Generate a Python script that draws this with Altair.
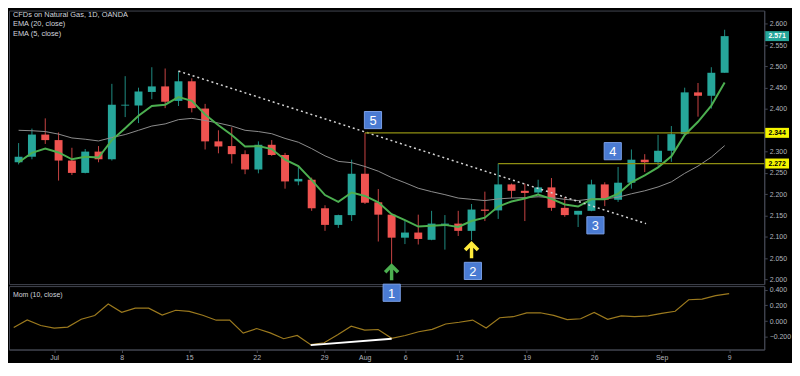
import altair as alt
import pandas as pd

# ---- data (bar 0 = 2019-06-26 ... bar 53 = 2019-09-09, daily) ----
opens = [2.275, 2.288, 2.340, 2.327, 2.279, 2.250, 2.300, 2.282, 2.408, 2.408,
         2.440, 2.453, 2.419, 2.465, 2.401, 2.324, 2.313, 2.294, 2.258, 2.316,
         2.292, 2.230, 2.234, 2.167, 2.128, 2.151, 2.248, 2.181, 2.152, 2.098,
         2.110, 2.093, 2.128, 2.131, 2.114, 2.164, 2.162, 2.223, 2.208, 2.204,
         2.216, 2.168, 2.152, 2.161, 2.223, 2.187, 2.227, 2.281, 2.275, 2.302,
         2.341, 2.439, 2.431, 2.485]
highs = [2.320, 2.354, 2.378, 2.345, 2.309, 2.306, 2.313, 2.459, 2.477, 2.450,
         2.498, 2.495, 2.489, 2.472, 2.412, 2.350, 2.357, 2.303, 2.324, 2.327,
         2.297, 2.266, 2.239, 2.174, 2.152, 2.281, 2.344, 2.212, 2.153, 2.138,
         2.152, 2.161, 2.151, 2.161, 2.177, 2.206, 2.272, 2.225, 2.225, 2.234,
         2.238, 2.193, 2.161, 2.234, 2.228, 2.264, 2.305, 2.294, 2.339, 2.360,
         2.450, 2.461, 2.498, 2.586]
lows = [2.270, 2.282, 2.318, 2.232, 2.245, 2.249, 2.275, 2.279, 2.381, 2.367,
        2.423, 2.402, 2.407, 2.392, 2.305, 2.296, 2.272, 2.247, 2.249, 2.290,
        2.213, 2.221, 2.161, 2.114, 2.121, 2.137, 2.177, 2.089, 2.036, 2.083,
        2.082, 2.092, 2.070, 2.102, 2.092, 2.137, 2.142, 2.191, 2.137, 2.198,
        2.161, 2.147, 2.123, 2.160, 2.172, 2.182, 2.213, 2.252, 2.267, 2.276,
        2.340, 2.382, 2.401, 2.485]
closes = [2.288, 2.340, 2.327, 2.279, 2.250, 2.300, 2.282, 2.410, 2.410, 2.441,
          2.453, 2.417, 2.465, 2.402, 2.324, 2.312, 2.294, 2.258, 2.316, 2.292,
          2.230, 2.236, 2.167, 2.128, 2.151, 2.248, 2.180, 2.152, 2.098, 2.110,
          2.095, 2.131, 2.131, 2.114, 2.164, 2.161, 2.223, 2.208, 2.203, 2.216,
          2.168, 2.151, 2.161, 2.223, 2.187, 2.227, 2.281, 2.275, 2.302, 2.341,
          2.439, 2.431, 2.485, 2.571]
ema5 = [2.275, 2.297, 2.307, 2.298, 2.282, 2.288, 2.286, 2.327, 2.355, 2.384,
        2.407, 2.410, 2.428, 2.419, 2.387, 2.362, 2.339, 2.312, 2.313, 2.306,
        2.281, 2.266, 2.233, 2.198, 2.182, 2.204, 2.196, 2.181, 2.153, 2.139,
        2.124, 2.126, 2.128, 2.123, 2.137, 2.145, 2.171, 2.183, 2.190, 2.199,
        2.189, 2.176, 2.171, 2.188, 2.188, 2.201, 2.228, 2.244, 2.263, 2.289,
        2.339, 2.370, 2.408, 2.462]
ema20 = [2.350, 2.349, 2.347, 2.341, 2.332, 2.329, 2.325, 2.333, 2.340, 2.350,
         2.360, 2.365, 2.375, 2.378, 2.373, 2.367, 2.360, 2.350, 2.347, 2.342,
         2.331, 2.322, 2.307, 2.290, 2.277, 2.274, 2.265, 2.254, 2.239, 2.227,
         2.214, 2.206, 2.199, 2.191, 2.188, 2.185, 2.189, 2.191, 2.192, 2.194,
         2.192, 2.188, 2.185, 2.189, 2.189, 2.193, 2.201, 2.208, 2.217, 2.229,
         2.249, 2.266, 2.287, 2.314]
mom10 = [-0.080, 0.015, -0.056, -0.088, -0.076, 0.024, 0.072, 0.216, 0.112, 0.164,
         0.165, 0.077, 0.138, 0.123, 0.074, 0.012, 0.012, -0.152, -0.094, -0.149,
         -0.223, -0.181, -0.298, -0.274, -0.173, -0.064, -0.114, -0.106, -0.218, -0.182,
         -0.135, -0.105, -0.036, -0.014, 0.013, -0.087, 0.043, 0.056, 0.105, 0.106,
         0.073, 0.020, 0.030, 0.109, 0.023, 0.066, 0.058, 0.067, 0.099, 0.125,
         0.271, 0.280, 0.324, 0.348]

tick_idx = [3, 8, 13, 18, 23, 26, 29, 33, 38, 43, 48, 53]
tick_text = ["Jul", "8", "15", "22", "29", "Aug", "6", "12", "19", "26", "Sep", "9"]
# 2.350 is hidden behind the 2.344 tag in the reference
price_ticks = [2.0, 2.05, 2.1, 2.15, 2.2, 2.25, 2.3, 2.4, 2.45, 2.5, 2.55, 2.6]
mom_ticks = [-0.2, 0.0, 0.2, 0.4]

title_lines = ["CFDs on Natural Gas, 1D, OANDA", "EMA (20, close)", "EMA (5, close)"]

trend_idx = [12, 47.1]
trend_price = [2.489, 2.131]
level_start = [26, 36]
level_price = [2.344, 2.272]
axis_box_price = [2.571, 2.344, 2.272]
axis_box_label = ["2.571", "2.344", "2.272"]
axis_box_fill = ["#26a69a", "#f5f500", "#f5f500"]
axis_box_ink = ["#ffffff", "#000000", "#000000"]
callout_text = ["5", "2", "3", "4"]
callout_idx = [26.6, 34.1, 43.3, 44.6]
callout_price = [2.374, 2.020, 2.127, 2.301]
arrow_idx = [28, 34]
arrow_price = [2.018, 2.070]
arrow_color = ["#4caf50", "#ffeb3b"]
mom_callout_text = ["1"]
mom_callout_idx = [28.0]
mom_callout_val = [0.36]
div_idx = [22, 28]
div_val = [-0.304, -0.224]

# ---- layout / style ----
W, H1, H2 = 762, 276, 64
XMIN, XMAX = -0.35, 55.6
PMIN, PMAX = 1.989, 2.631
MMIN, MMAX = -0.36, 0.444
TEAL, RED = "#26a69a", "#ef5350"
TEAL_W, RED_W = "#1f8c82", "#c84444"
LABEL = "#b2b5be"
LINE = "#434651"
FONT = "Liberation Sans"
BOX_BLUE = "#4a7bd3"
LEVEL = "#8f8f12"
ARROW = ("M0,-1 L0.9,-0.1 L0.6,0.2 L0.2,-0.22 L0.2,1 L-0.2,1 L-0.2,-0.22 "
         "L-0.6,0.2 L-0.9,-0.1 Z")
TAG = "M-1,-0.42 L1,-0.42 L1,0.42 L-1,0.42 Z"

df = pd.DataFrame({
    "idx": list(range(len(closes))), "open": opens, "high": highs, "low": lows,
    "close": closes, "ema5": ema5, "ema20": ema20, "mom": mom10,
})

xs = alt.Scale(domain=[XMIN, XMAX], nice=False, zero=False)
ys = alt.Scale(domain=[PMIN, PMAX], nice=False, zero=False)
ms = alt.Scale(domain=[MMIN, MMAX], nice=False, zero=False)

yax = alt.Axis(orient="right", values=price_ticks, format=".3f", title=None, grid=False,
               labelFontSize=7, labelColor=LABEL, tickSize=3, tickColor=LINE,
               domainColor=LINE, labelPadding=2, labelFont=FONT)
max_ = alt.Axis(orient="right", values=mom_ticks, format=".3f", title=None, grid=False,
                labelFontSize=7, labelColor=LABEL, tickSize=3, tickColor=LINE,
                domainColor=LINE, labelPadding=2, labelFont=FONT)
label_expr = " : ".join(f"datum.value == {i} ? '{t}'" for i, t in zip(tick_idx, tick_text)) + " : ''"
xax = alt.Axis(values=tick_idx, labelExpr=label_expr, title=None, grid=False,
               labelFontSize=7, labelColor=LABEL, tickSize=3, tickColor=LINE,
               domainColor=LINE, labelPadding=1, labelFont=FONT)

X = alt.X("idx:Q", scale=xs, axis=None)
up = alt.datum.close >= alt.datum.open

wicks = alt.Chart(df).mark_rule(strokeWidth=1).encode(
    x=X, y=alt.Y("low:Q", scale=ys, axis=yax), y2="high:Q",
    color=alt.condition(up, alt.value(TEAL_W), alt.value(RED_W)))
bodies = alt.Chart(df).mark_bar(size=8).encode(
    x=X, y=alt.Y("open:Q", scale=ys, axis=yax), y2="close:Q",
    color=alt.condition(up, alt.value(TEAL), alt.value(RED)))
l20 = alt.Chart(df).mark_line(color="#8e8e8e", strokeWidth=1).encode(
    x=X, y=alt.Y("ema20:Q", scale=ys, axis=yax))
l5 = alt.Chart(df).mark_line(color="#4caf50", strokeWidth=2).encode(
    x=X, y=alt.Y("ema5:Q", scale=ys, axis=yax))

trend_df = pd.DataFrame({"idx": trend_idx, "price": trend_price})
trend = alt.Chart(trend_df).mark_line(color="#d6d6d6", strokeWidth=1.5, strokeDash=[2, 3]).encode(
    x=X, y=alt.Y("price:Q", scale=ys, axis=yax))

lev_df = pd.DataFrame({"idx": level_start, "price": level_price})
levels = alt.Chart(lev_df).mark_rule(color=LEVEL, strokeWidth=1.2).encode(
    x=X, x2=alt.value(W), y=alt.Y("price:Q", scale=ys, axis=yax))

tag_df = pd.DataFrame({"price": axis_box_price, "label": axis_box_label,
                       "fill": axis_box_fill, "ink": axis_box_ink})
tags = alt.Chart(tag_df).mark_point(shape=TAG, filled=True, size=576, opacity=1, strokeWidth=0).encode(
    x=alt.value(W + 13), y=alt.Y("price:Q", scale=ys, axis=yax),
    color=alt.Color("fill:N", scale=None))
tag_text = alt.Chart(tag_df).mark_text(fontSize=7, font=FONT, fontWeight="bold",
                                       align="center", baseline="middle").encode(
    x=alt.value(W + 13), y=alt.Y("price:Q", scale=ys, axis=yax),
    text="label:N", color=alt.Color("ink:N", scale=None))

co_df = pd.DataFrame({"idx": callout_idx, "price": callout_price, "t": callout_text})
co_box = alt.Chart(co_df).mark_square(size=300, filled=True, opacity=1, color=BOX_BLUE,
                                      stroke="#7a9fe6", strokeWidth=1).encode(
    x=X, y=alt.Y("price:Q", scale=ys, axis=yax))
co_txt = alt.Chart(co_df).mark_text(fontSize=13, font=FONT, color="white",
                                    align="center", baseline="middle", dy=1).encode(
    x=X, y=alt.Y("price:Q", scale=ys, axis=yax), text="t:N")

ar_df = pd.DataFrame({"idx": arrow_idx, "price": arrow_price, "c": arrow_color})
arrows = alt.Chart(ar_df).mark_point(shape=ARROW, filled=True, size=300, opacity=1, strokeWidth=0).encode(
    x=X, y=alt.Y("price:Q", scale=ys, axis=yax), color=alt.Color("c:N", scale=None))

titles = [
    alt.Chart(pd.DataFrame({"t": [t]})).mark_text(
        fontSize=7.5, font=FONT, color="#d1d4dc", align="left", baseline="middle").encode(
        x=alt.value(4), y=alt.value(4 + 10 * k), text="t:N")
    for k, t in enumerate(title_lines)
]

main = alt.layer(wicks, bodies, l20, l5, trend, levels, co_box, co_txt, arrows,
                 tags, tag_text, *titles).properties(width=W, height=H1)

XM = alt.X("idx:Q", scale=xs, axis=xax)
mom_line = alt.Chart(df).mark_line(color="#9c7a1e", strokeWidth=1.2).encode(
    x=XM, y=alt.Y("mom:Q", scale=ms, axis=max_))
div_df = pd.DataFrame({"idx": div_idx, "val": div_val})
div = alt.Chart(div_df).mark_line(color="#ffffff", strokeWidth=2).encode(
    x=XM, y=alt.Y("val:Q", scale=ms, axis=max_))
mco_df = pd.DataFrame({"idx": mom_callout_idx, "val": mom_callout_val, "t": mom_callout_text})
mco_box = alt.Chart(mco_df).mark_square(size=300, filled=True, opacity=1, color=BOX_BLUE,
                                        stroke="#7a9fe6", strokeWidth=1).encode(
    x=XM, y=alt.Y("val:Q", scale=ms, axis=max_))
mco_txt = alt.Chart(mco_df).mark_text(fontSize=13, font=FONT, color="white",
                                      align="center", baseline="middle", dy=1).encode(
    x=XM, y=alt.Y("val:Q", scale=ms, axis=max_), text="t:N")
mom_title = alt.Chart(pd.DataFrame({"t": ["Mom (10, close)"]})).mark_text(
    fontSize=7, font=FONT, color="#d1d4dc", align="left", baseline="middle").encode(
    x=alt.value(4), y=alt.value(9), text="t:N")

mom = alt.layer(mom_line, div, mom_title, mco_box, mco_txt).properties(width=W, height=H2)

chart = alt.vconcat(main, mom, spacing=2, bounds="flush").properties(
    padding=0, background="#000000"
).configure_view(stroke=LINE, strokeWidth=1)

chart.save("out.html", embed_options={"renderer": "svg", "actions": False})
